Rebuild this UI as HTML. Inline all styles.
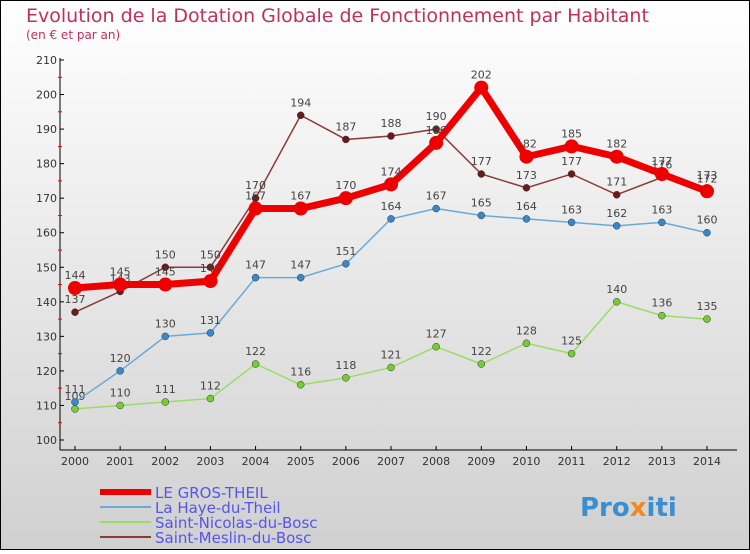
<!DOCTYPE html>
<html><head><meta charset="utf-8"><style>
body{margin:0}
#c{width:750px;height:550px;position:relative;font-family:"DejaVu Sans","Liberation Sans",sans-serif}
</style></head><body>
<div id="c">
<svg id="s" width="750" height="550" xmlns="http://www.w3.org/2000/svg">
<defs><linearGradient id="bg" x1="0" y1="0" x2="0" y2="1"><stop offset="0" stop-color="#ffffff"/><stop offset="1" stop-color="#d0d0d0"/></linearGradient></defs>
<rect x="0.5" y="0.5" width="749" height="549" fill="url(#bg)" stroke="#000"/>
<text x="26" y="22" font-size="19" fill="#c0305a">Evolution de la Dotation Globale de Fonctionnement par Habitant</text>
<text x="26" y="39" font-size="12" fill="#c0305a">(en € et par an)</text>
<g id="axes"></g><g id="series"></g><g id="legend"></g>
<text x="580" y="516" font-size="26" font-weight="bold" fill="#3a8fd0">Pro<tspan fill="#f08a20">x</tspan>iti</text>
</svg></div>
<script>
const years=[2000,2001,2002,2003,2004,2005,2006,2007,2008,2009,2010,2011,2012,2013,2014];
const yTicks=[100,110,120,130,140,150,160,170,180,190,200,210];
const grosTheil=[144,145,145,146,167,167,170,174,186,202,182,185,182,177,172];
const hayeTheil=[111,120,130,131,147,147,151,164,167,165,164,163,162,163,160];
const stNicolas=[109,110,111,112,122,116,118,121,127,122,128,125,140,136,135];
const stMeslin=[137,143,150,150,170,194,187,188,190,177,173,177,171,176,173];
const NS="http://www.w3.org/2000/svg";
const X=i=>75+i*(707-75)/(years.length-1);
const Y=v=>440-(v-100)*(380/110);
function mk(t,a,p){const e=document.createElementNS(NS,t);for(const k in a)e.setAttribute(k,a[k]);p.appendChild(e);return e;}
const ax=document.getElementById('axes');
const yl=mk('line',{x1:60,y1:58,x2:60,y2:450,stroke:'#000'},ax);


const xl=mk('line',{x1:60,y1:450,x2:737,y2:450,stroke:'#000'},ax);


yTicks.forEach((v,i)=>{
  mk('line',{x1:60,y1:Y(v),x2:64,y2:Y(v),stroke:'#000'},ax);
  const t=mk('text',{x:57,y:Y(v)+4,'font-size':11,'text-anchor':'end',fill:'#333'},ax);t.textContent=v;
  
  
  if(i<yTicks.length-1)mk('line',{x1:58,y1:Y(v+5),x2:62,y2:Y(v+5),stroke:'#e00'},ax);
});
years.forEach((y,i)=>{
  mk('line',{x1:X(i),y1:446,x2:X(i),y2:450,stroke:'#000'},ax);
  const t=mk('text',{x:X(i),y:465,'font-size':11,'text-anchor':'middle',fill:'#333'},ax);t.textContent=y;
  
  
});
const sg=document.getElementById('series');
const defs=[
 {d:stNicolas,c:'#99dd66',pt:'#77cc33',w:1.5,r:3.5,n:'saint-nicolas-du-bosc'},
 {d:hayeTheil,c:'#6aaad8',pt:'#3a88cc',w:1.5,r:3.5,n:'la-haye-du-theil'},
 {d:stMeslin,c:'#8b3a3a',pt:'#6a1a1a',w:1.5,r:3.5,n:'saint-meslin-du-bosc'},
 {d:grosTheil,c:'#ee0000',pt:'#ee0000',w:7,r:7,n:'le-gros-theil'}];
defs.forEach(s=>{
  const g=mk('g',{},sg);
  
  
  const l=mk('polyline',{points:s.d.map((v,i)=>X(i)+','+Y(v)).join(' '),fill:'none',stroke:s.c,'stroke-width':s.w},g);
  
  
  s.d.forEach((v,i)=>{
    const p=mk('circle',{cx:X(i),cy:Y(v),r:s.r,fill:s.pt,stroke:'#333','stroke-width':s.w>3?0:0.5},g);
    
    
    const t=mk('text',{x:X(i),y:Y(v)-9,'font-size':11,'text-anchor':'middle',fill:'#444'},g);t.textContent=v;
    
    
  });
});
const lg=document.getElementById('legend');
const leg=[['LE GROS-THEIL','#ee0000',6],['La Haye-du-Theil','#6aaad8',2],['Saint-Nicolas-du-Bosc','#99dd66',2],['Saint-Meslin-du-Bosc','#8b3a3a',2]];
leg.forEach((e,i)=>{
  const y=492+i*15;
  const r=mk('rect',{x:100,y:y-e[2]/2,width:51,height:e[2],fill:e[1]},lg);
  
  
  const t=mk('text',{x:155,y:y+6,'font-size':15,fill:'#5555ee'},lg);t.textContent=e[0];
  
  
});
</script></body></html>
